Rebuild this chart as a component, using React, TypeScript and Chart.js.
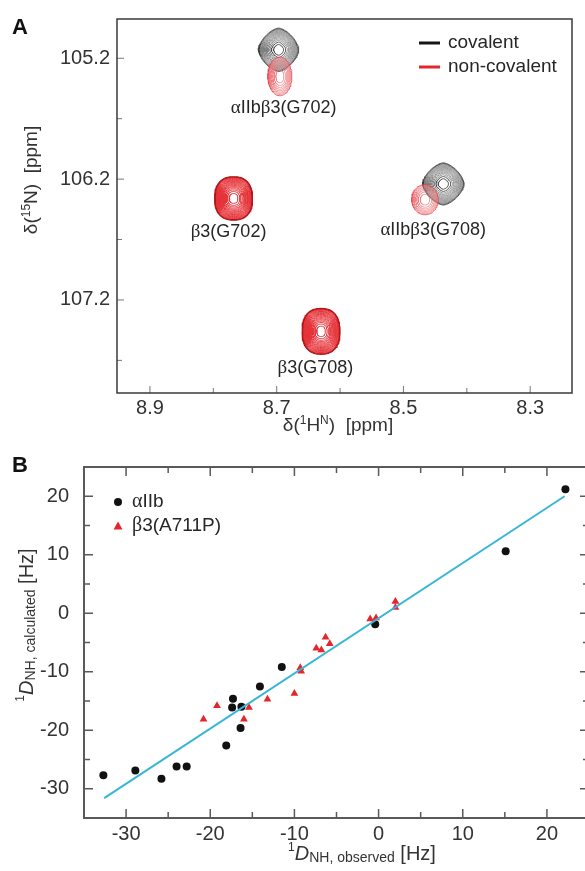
import React, { useEffect, useRef } from 'react';
import { Chart, registerables } from 'chart.js';
Chart.register(...registerables);

const SANS = '"Liberation Sans", Arial, Helvetica, sans-serif';
const SERIF = '"Liberation Serif", "Times New Roman", serif';

// ---------- Panel A data (HSQC peaks) ----------
const peakNames = ['αIIbβ3(G702) covalent', 'αIIbβ3(G702) non-covalent', 'β3(G702)', 'αIIbβ3(G708) covalent', 'αIIbβ3(G708) non-covalent', 'β3(G708)'];
const peakKind = ['covalent', 'weak', 'strong', 'covalent', 'weak', 'strong'];
const peakH = [8.697, 8.695, 8.768, 8.437, 8.466, 8.630];
const peakN = [105.13, 105.35, 106.36, 106.24, 106.37, 107.46];
const peakHalfH = [0.032, 0.019, 0.030, 0.033, 0.021, 0.030];
const peakHalfN = [0.18, 0.16, 0.18, 0.175, 0.125, 0.19];
const peakShape = [1.55, 2.0, 2.4, 1.55, 2.0, 2.4];
const peakLevels = [16, 9, 20, 16, 8, 20];

const labelText = ['αIIbβ3(G702)', 'β3(G702)', 'αIIbβ3(G708)', 'β3(G708)'];
const labelH = [8.689, 8.776, 8.453, 8.639];
const labelN = [105.61, 106.64, 106.62, 107.76];

const xMajorA = [8.9, 8.7, 8.5, 8.3];
const xMinorA = [8.8, 8.6, 8.4];
const yMajorA = [105.2, 106.2, 107.2];
const yMinorA = [105.7, 106.7, 107.7];

const legendA = ['covalent', 'non-covalent'];
const legendAColors = ['#151515', '#e2262c'];

// ---------- Panel B data (RDCs) ----------
const aIIbObs = [-32.7, -28.9, -25.8, -24.0, -22.8, -18.1, -17.3, -17.4, -16.3, -16.4, -14.1, -11.5, -0.4, 15.1, 22.2];
const aIIbCalc = [-27.7, -26.9, -28.3, -26.2, -26.2, -22.6, -14.6, -16.1, -16.0, -19.6, -12.5, -9.2, -1.9, 10.6, 21.2];
const b3Obs = [-20.8, -19.2, -16.0, -15.4, -13.2, -10.0, -9.3, -9.2, -7.4, -6.8, -6.3, -5.8, -1.0, -0.3, 2.0, 2.0];
const b3Calc = [-18.1, -15.8, -18.1, -16.1, -14.7, -13.7, -9.3, -9.9, -6.0, -6.3, -4.1, -5.2, -1.0, -0.8, 2.0, 1.0];
const fitX = [-32.6, 22.1];
const fitY = [-31.6, 20.0];

const xMajorB = [-30, -20, -10, 0, 10, 20];
const xMinorB = [-25, -15, -5, 5, 15];
const yMajorB = [-30, -20, -10, 0, 10, 20];
const yMinorB = [-25, -15, -5, 5, 15];

const legendB = ['αIIb', 'β3(A711P)'];

type Run = { text: string; font: string; dy?: number };

function drawRuns(ctx: CanvasRenderingContext2D, runs: Run[], x: number, y: number, align: string = 'center') {
  let total = 0;
  const widths = runs.map((r) => {
    ctx.font = r.font;
    const w = ctx.measureText(r.text).width;
    total += w;
    return w;
  });
  let cx = align === 'center' ? x - total / 2 : align === 'right' ? x - total : x;
  ctx.textAlign = 'left';
  ctx.textBaseline = 'middle';
  runs.forEach((r, i) => {
    ctx.font = r.font;
    ctx.fillText(r.text, cx, y + (r.dy || 0));
    cx += widths[i];
  });
}

function greekRuns(text: string, size: number): Run[] {
  const runs: Run[] = [];
  for (const ch of text) {
    const greek = /[α-ω]/.test(ch);
    const font = greek ? `${size + 1}px ${SERIF}` : `${size}px ${SANS}`;
    const last = runs[runs.length - 1];
    if (last && last.font === font) last.text += ch;
    else runs.push({ text: ch, font });
  }
  return runs;
}

function contourStyle(kind: string, k: number, L: number) {
  if (kind === 'covalent') {
    if (k < 2) return { c: '#3a3a3a', w: 0.8 };
    if (k >= L - 2) return { c: '#444444', w: 0.8 };
    return { c: '#7d7d7d', w: 0.75 };
  }
  if (kind === 'strong') {
    if (k < 2) return { c: '#b5141a', w: 1.1 };
    return { c: '#e5343a', w: 1.0 };
  }
  if (k < 1) return { c: '#e0464c', w: 0.8 };
  return { c: '#ec7a7e', w: 0.7 };
}

function buildContours() {
  const sets: any[] = [];
  peakH.forEach((h, i) => {
    const L = peakLevels[i];
    const e = 2 / peakShape[i];
    for (let k = 0; k < L; k++) {
      const r = Math.sqrt(1 - k / L);
      const pts: { x: number; y: number }[] = [];
      for (let j = 0; j <= 80; j++) {
        const t = (j / 80) * 2 * Math.PI;
        const c = Math.cos(t);
        const s = Math.sin(t);
        pts.push({
          x: h + peakHalfH[i] * r * Math.sign(c) * Math.pow(Math.abs(c), e),
          y: peakN[i] + peakHalfN[i] * r * Math.sign(s) * Math.pow(Math.abs(s), e),
        });
      }
      const st = contourStyle(peakKind[i], k, L);
      sets.push({
        label: peakNames[i],
        data: pts,
        showLine: true,
        pointRadius: 0,
        borderColor: st.c,
        borderWidth: st.w,
        fill: false,
        tension: 0,
        order: peakKind[i] === 'covalent' ? 2 : 1,
      });
    }
  });
  return sets;
}

function drawTicks(ctx: CanvasRenderingContext2D, chart: any, xs: number[], ys: number[], len: number, sides: string[]) {
  const a = chart.chartArea;
  const sx = chart.scales.x;
  const sy = chart.scales.y;
  ctx.beginPath();
  xs.forEach((v) => {
    const px = sx.getPixelForValue(v);
    if (sides.includes('bottom')) { ctx.moveTo(px, a.bottom); ctx.lineTo(px, a.bottom - len); }
    if (sides.includes('top')) { ctx.moveTo(px, a.top); ctx.lineTo(px, a.top + len); }
  });
  ys.forEach((v) => {
    const py = sy.getPixelForValue(v);
    if (sides.includes('left')) { ctx.moveTo(a.left, py); ctx.lineTo(a.left + len, py); }
    if (sides.includes('right')) { ctx.moveTo(a.right, py); ctx.lineTo(a.right - len, py); }
  });
  ctx.stroke();
}

const panelAPlugin = {
  id: 'panelA',
  afterDraw(chart: any) {
    const ctx = chart.ctx as CanvasRenderingContext2D;
    const a = chart.chartArea;
    const sx = chart.scales.x;
    const sy = chart.scales.y;
    ctx.save();
    ctx.strokeStyle = '#777';
    ctx.lineWidth = 1;
    drawTicks(ctx, chart, xMajorA, yMajorA, 7, ['bottom', 'left']);
    drawTicks(ctx, chart, xMinorA, yMinorA, 5, ['bottom', 'left']);
    ctx.strokeStyle = '#3a3a3a';
    ctx.lineWidth = 1.5;
    ctx.strokeRect(a.left, a.top, a.right - a.left, a.bottom - a.top);
    ctx.fillStyle = '#262626';
    labelText.forEach((t, i) => {
      drawRuns(ctx, greekRuns(t, 18), sx.getPixelForValue(labelH[i]), sy.getPixelForValue(labelN[i]));
    });
    legendA.forEach((t, i) => {
      const y = 43 + i * 24;
      ctx.strokeStyle = legendAColors[i];
      ctx.lineWidth = 3;
      ctx.beginPath();
      ctx.moveTo(419, y);
      ctx.lineTo(440, y);
      ctx.stroke();
      ctx.fillStyle = '#262626';
      drawRuns(ctx, [{ text: t, font: `19px ${SANS}` }], 448, y, 'left');
    });
    ctx.fillStyle = '#333';
    drawRuns(ctx, [
      { text: 'δ(', font: `19px ${SANS}` },
      { text: '1', font: `12px ${SANS}`, dy: -5 },
      { text: 'H', font: `19px ${SANS}` },
      { text: 'N', font: `12px ${SANS}`, dy: -5 },
      { text: ')  [ppm]', font: `19px ${SANS}` },
    ], 338, 426);
    ctx.save();
    ctx.translate(32, 180);
    ctx.rotate(-Math.PI / 2);
    drawRuns(ctx, [
      { text: 'δ(', font: `19px ${SANS}` },
      { text: '15', font: `12px ${SANS}`, dy: -5 },
      { text: 'N)  [ppm]', font: `19px ${SANS}` },
    ], 0, 0);
    ctx.restore();
    ctx.fillStyle = '#111';
    drawRuns(ctx, [{ text: 'A', font: `bold 22px ${SANS}` }], 12, 28, 'left');
    ctx.restore();
  },
};

const panelBPlugin = {
  id: 'panelB',
  afterDraw(chart: any) {
    const ctx = chart.ctx as CanvasRenderingContext2D;
    const a = chart.chartArea;
    ctx.save();
    ctx.strokeStyle = '#5a5a5a';
    ctx.lineWidth = 1.5;
    drawTicks(ctx, chart, xMajorB, yMajorB, 9, ['bottom', 'top', 'left', 'right']);
    drawTicks(ctx, chart, xMinorB, yMinorB, 6, ['bottom', 'top', 'left', 'right']);
    ctx.lineWidth = 2;
    ctx.strokeRect(a.left, a.top, a.right - a.left, a.bottom - a.top);
    ctx.fillStyle = '#111';
    ctx.beginPath();
    ctx.arc(118, 62, 4, 0, Math.PI * 2);
    ctx.fill();
    ctx.fillStyle = '#e3262b';
    ctx.beginPath();
    ctx.moveTo(118, 81.5);
    ctx.lineTo(122.5, 89.5);
    ctx.lineTo(113.5, 89.5);
    ctx.closePath();
    ctx.fill();
    ctx.fillStyle = '#262626';
    drawRuns(ctx, greekRuns(legendB[0], 19), 132, 62, 'left');
    drawRuns(ctx, greekRuns(legendB[1], 19), 132, 86, 'left');
    ctx.fillStyle = '#333';
    drawRuns(ctx, [
      { text: '1', font: `12px ${SANS}`, dy: -6 },
      { text: 'D', font: `italic 20px ${SANS}` },
      { text: 'NH, observed', font: `14px ${SANS}`, dy: 4 },
      { text: ' [Hz]', font: `20px ${SANS}` },
    ], 362, 414);
    ctx.save();
    ctx.translate(27, 185);
    ctx.rotate(-Math.PI / 2);
    drawRuns(ctx, [
      { text: '1', font: `12px ${SANS}`, dy: -6 },
      { text: 'D', font: `italic 20px ${SANS}` },
      { text: 'NH, calculated', font: `14px ${SANS}`, dy: 4 },
      { text: ' [Hz]', font: `20px ${SANS}` },
    ], 0, 0);
    ctx.restore();
    ctx.fillStyle = '#111';
    drawRuns(ctx, [{ text: 'B', font: `bold 22px ${SANS}` }], 12, 26, 'left');
    ctx.restore();
  },
};

function useChartA(ref: React.RefObject<HTMLCanvasElement>) {
  useEffect(() => {
    if (!ref.current) return;
    const chart = new Chart(ref.current, {
      type: 'scatter',
      data: { datasets: buildContours() },
      options: {
        animation: false,
        responsive: false,
        events: [],
        layout: { padding: { top: 19, right: 13, left: 0, bottom: 0 } },
        plugins: { legend: { display: false }, tooltip: { enabled: false } },
        scales: {
          x: {
            type: 'linear',
            min: 8.234,
            max: 8.952,
            reverse: true,
            grid: { display: false, drawTicks: false },
            border: { display: false },
            afterBuildTicks: (s: any) => { s.ticks = xMajorA.map((v) => ({ value: v })); },
            afterFit: (s: any) => { s.height = 47; },
            ticks: { padding: 3, color: '#333', font: { family: SANS, size: 20 }, maxRotation: 0, callback: (v: any) => Number(v).toFixed(1) },
          },
          y: {
            type: 'linear',
            min: 104.875,
            max: 107.97,
            reverse: true,
            grid: { display: false, drawTicks: false },
            border: { display: false },
            afterBuildTicks: (s: any) => { s.ticks = yMajorA.map((v) => ({ value: v })); },
            afterFit: (s: any) => { s.width = 117; },
            ticks: { padding: 7, color: '#333', font: { family: SANS, size: 20 }, callback: (v: any) => Number(v).toFixed(1) },
          },
        },
      },
      plugins: [panelAPlugin],
    } as any);
    return () => chart.destroy();
  }, []);
}

function useChartB(ref: React.RefObject<HTMLCanvasElement>) {
  useEffect(() => {
    if (!ref.current) return;
    const chart = new Chart(ref.current, {
      type: 'scatter',
      data: {
        datasets: [
          {
            label: 'fit',
            data: fitX.map((x, i) => ({ x, y: fitY[i] })),
            showLine: true,
            pointRadius: 0,
            borderColor: '#38b6d8',
            borderWidth: 2,
            order: 0,
          },
          {
            label: legendB[0],
            data: aIIbObs.map((x, i) => ({ x, y: aIIbCalc[i] })),
            pointStyle: 'circle',
            pointRadius: 4,
            backgroundColor: '#111',
            borderColor: '#111',
            borderWidth: 0,
            order: 2,
          },
          {
            label: legendB[1],
            data: b3Obs.map((x, i) => ({ x, y: b3Calc[i] })),
            pointStyle: 'triangle',
            pointRadius: 4.5,
            backgroundColor: '#e3262b',
            borderColor: '#e3262b',
            borderWidth: 0,
            order: 1,
          },
        ],
      },
      options: {
        animation: false,
        responsive: false,
        events: [],
        layout: { padding: { top: 24, right: 11, left: 0, bottom: 0 } },
        plugins: { legend: { display: false }, tooltip: { enabled: false } },
        scales: {
          x: {
            type: 'linear',
            min: -35,
            max: 25,
            grid: { display: false, drawTicks: false },
            border: { display: false },
            afterBuildTicks: (s: any) => { s.ticks = xMajorB.map((v) => ({ value: v })); },
            afterFit: (s: any) => { s.height = 53; },
            ticks: { padding: 4, color: '#333', font: { family: SANS, size: 20 }, maxRotation: 0 },
          },
          y: {
            type: 'linear',
            min: -35,
            max: 25,
            grid: { display: false, drawTicks: false },
            border: { display: false },
            afterBuildTicks: (s: any) => { s.ticks = yMajorB.map((v) => ({ value: v })); },
            afterFit: (s: any) => { s.width = 84; },
            ticks: { padding: 15, color: '#333', font: { family: SANS, size: 20 } },
          },
        },
      },
      plugins: [panelBPlugin],
    } as any);
    return () => chart.destroy();
  }, []);
}

export default function App() {
  const refA = useRef<HTMLCanvasElement>(null);
  const refB = useRef<HTMLCanvasElement>(null);
  useChartA(refA);
  useChartB(refB);
  return (
    <div style={{ position: 'fixed', left: 0, top: 0, width: 585, height: 871, overflow: 'hidden', background: '#fff' }}>
      <canvas ref={refA} width={585} height={440} style={{ position: 'absolute', left: 0, top: 0, width: 585, height: 440 }} />
      <canvas ref={refB} width={600} height={431} style={{ position: 'absolute', left: 0, top: 440, width: 600, height: 431 }} />
    </div>
  );
}
